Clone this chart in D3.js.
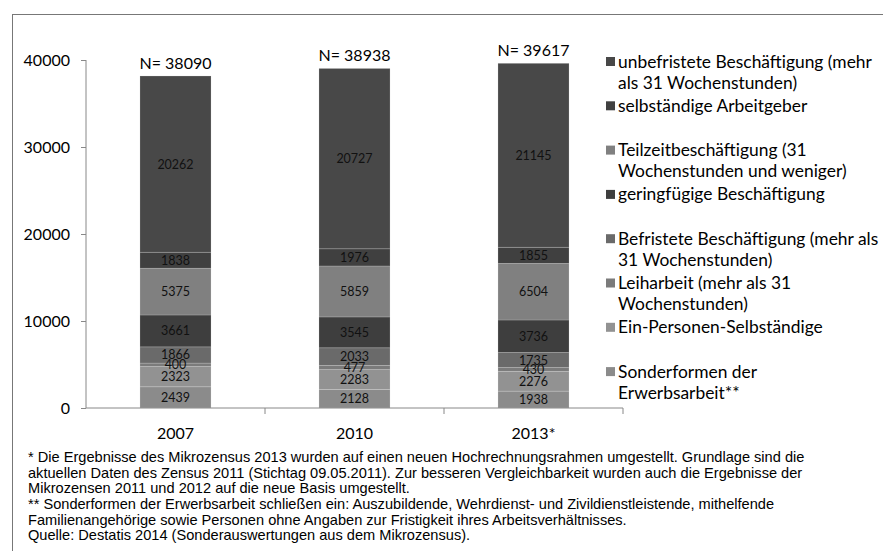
<!DOCTYPE html>
<html><head><meta charset="utf-8">
<script src="https://cdn.jsdelivr.net/npm/d3@7"></script>
<style>body{margin:0;background:#fff}svg{display:block}</style>
</head><body>
<script>
const years = ["2007", "2010", "2013*"];
const totals = [38090, 38938, 39617];
// stack order bottom -> top
const sonderformen = [2439, 2128, 1938];
const einPersonen = [2323, 2283, 2276];
const leiharbeit = [400, 477, 430];
const befristete = [1866, 2033, 1735];
const geringfuegig = [3661, 3545, 3736];
const teilzeit = [5375, 5859, 6504];
const selbstaendig = [1838, 1976, 1855];
const unbefristet = [20262, 20727, 21145];
const yTicks = [0, 10000, 20000, 30000, 40000];

const seriesNames = [
  "Sonderformen der\nErwerbsarbeit**",
  "Ein-Personen-Selbständige",
  "Leiharbeit (mehr als 31\nWochenstunden)",
  "Befristete Beschäftigung (mehr als\n31 Wochenstunden)",
  "geringfügige Beschäftigung",
  "Teilzeitbeschäftigung (31\nWochenstunden und weniger)",
  "selbständige Arbeitgeber",
  "unbefristete Beschäftigung (mehr\nals 31 Wochenstunden)"
];
const seriesValues = [sonderformen, einPersonen, leiharbeit, befristete, geringfuegig, teilzeit, selbstaendig, unbefristet];
const seriesColors = ["#8b8b8b", "#929292", "#7b7b7b", "#6a6a6a", "#3e3e3e", "#808080", "#404040", "#484848"];

const footnotes = [
  "* Die Ergebnisse des Mikrozensus 2013 wurden auf einen neuen Hochrechnungsrahmen umgestellt. Grundlage sind die",
  "aktuellen Daten des Zensus 2011 (Stichtag 09.05.2011). Zur besseren Vergleichbarkeit wurden auch die Ergebnisse der",
  "Mikrozensen 2011 und 2012 auf die neue Basis umgestellt.",
  "** Sonderformen der Erwerbsarbeit schließen ein: Auszubildende, Wehrdienst- und Zivildienstleistende, mithelfende",
  "Familienangehörige sowie Personen ohne Angaben zur Fristigkeit ihres Arbeitsverhältnisses.",
  "Quelle: Destatis 2014 (Sonderauswertungen aus dem Mikrozensus)."
];

const W = 883, H = 551;
const svg = d3.select("body").append("svg").attr("width", W).attr("height", H);

// frame
svg.append("rect").attr("x", 12.5).attr("y", 14.5).attr("width", W + 20).attr("height", H + 20)
  .attr("fill", "none").attr("stroke", "#777").attr("stroke-width", 1);

const x = d3.scaleBand().domain(years).range([86, 623]).paddingInner(0.603).paddingOuter(0.3015);
const y = d3.scaleLinear().domain([0, 40000]).range([408, 60]);

const font = "Lato, 'Open Sans', sans-serif";

// stacked data
const rows = years.map((yr, i) => {
  const o = {year: yr};
  seriesNames.forEach((s, k) => o[k] = seriesValues[k][i]);
  return o;
});
const stack = d3.stack().keys(d3.range(seriesNames.length))(rows);

const g = svg.append("g");
stack.forEach((layer, k) => {
  g.selectAll(null).data(layer).enter().append("rect")
    .attr("x", d => x(d.data.year))
    .attr("width", x.bandwidth())
    .attr("y", d => y(d[1]))
    .attr("height", d => y(d[0]) - y(d[1]))
    .attr("fill", seriesColors[k])
    .attr("stroke", "rgba(255,255,255,0.22)").attr("stroke-width", 0.8);
});
stack.forEach((layer, k) => {
  g.selectAll(null).data(layer).enter().append("text")
    .attr("x", d => x(d.data.year) + x.bandwidth() / 2)
    .attr("y", d => (y(d[0]) + y(d[1])) / 2)
    .attr("dy", "0.36em")
    .attr("text-anchor", "middle")
    .attr("font-family", font).attr("font-size", 12.5).attr("fill", "#111")
    .text(d => d.data[k]);
});

// N labels
svg.selectAll(null).data(years).enter().append("text")
  .attr("x", d => x(d) + x.bandwidth() / 2)
  .attr("y", (d, i) => y(stack[stack.length - 1][i][1]) - 7)
  .attr("text-anchor", "middle")
  .attr("font-family", font).attr("font-size", 16).attr("fill", "#000")
  .text((d, i) => "N= " + totals[i]);

// y axis
const yAxis = d3.axisLeft(y).tickValues(yTicks).tickSize(5).tickPadding(11).tickFormat(d3.format("d"));
const ya = svg.append("g").attr("transform", "translate(86,0)").call(yAxis);
ya.select(".domain").attr("stroke", "#888").attr("d", "M-0,408V60");
ya.selectAll(".tick line").attr("stroke", "#888");
ya.selectAll(".tick text").attr("font-family", font).attr("font-size", 16).attr("fill", "#000");

// x axis
const xa = svg.append("g").attr("transform", "translate(0,408)");
xa.append("line").attr("x1", 86).attr("x2", 623).attr("y1", 0).attr("y2", 0).attr("stroke", "#888");
const bounds = [86].concat(years.map(d => x(d) + x.bandwidth() / 2 + x.step() / 2));
xa.selectAll(null).data(bounds.slice(1)).enter().append("line")
  .attr("x1", d => d).attr("x2", d => d).attr("y1", 0).attr("y2", 6).attr("stroke", "#888");
xa.selectAll(null).data(years).enter().append("text")
  .attr("x", d => x(d) + x.bandwidth() / 2).attr("y", 25).attr("dy", "0.35em")
  .attr("text-anchor", "middle").attr("font-family", font).attr("font-size", 16).attr("fill", "#000")
  .text(d => d);

// legend (top -> bottom is reverse stack order)
const legendOrder = d3.range(seriesNames.length).reverse();
const lg = svg.append("g");
legendOrder.forEach((k, i) => {
  const cy = 61.5 + i * 44.3;
  lg.append("rect").attr("x", 606).attr("y", cy - 4.5).attr("width", 9).attr("height", 9).attr("fill", seriesColors[k]);
  const t = lg.append("text").attr("font-family", font).attr("font-size", 17.4).attr("fill", "#000");
  seriesNames[k].split("\n").forEach((line, j) => {
    t.append("tspan").attr("x", 618).attr("y", cy + j * 21.3).attr("dy", "0.35em").text(line);
  });
});

// footnotes
const fg = svg.append("g");
footnotes.forEach((line, i) => {
  fg.append("text").attr("x", 28).attr("y", 457 + i * 15.6).attr("dy", "0.35em")
    .attr("font-family", "'Liberation Sans', Arial, sans-serif").attr("font-size", 14.6).attr("fill", "#000")
    .text(line);
});
</script>
</body></html>
